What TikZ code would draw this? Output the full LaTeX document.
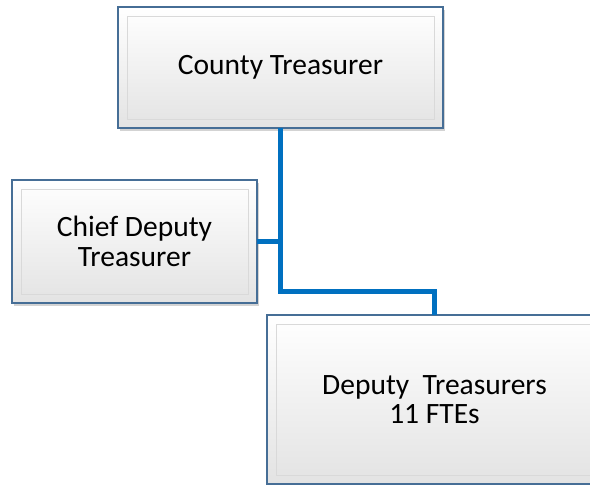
\documentclass[tikz,border=0pt]{standalone}
\usepackage{fontspec}
\setmainfont{Carlito}
\usetikzlibrary{shadows}
\definecolor{linkblue}{RGB}{0,112,192}
\definecolor{edgeblue}{RGB}{70,110,150}

\begin{document}
\begin{tikzpicture}[x=1pt,y=-1pt,
		post/.style={draw=edgeblue,line width=1.5pt,top color=white,bottom color=gray!22,
			inner sep=0pt,outer sep=0pt,align=center,font=\fontsize{29.5}{29.5}\selectfont,
			drop shadow={shadow xshift=2pt,shadow yshift=-3pt,opacity=0.35}},
		bevel/.style={draw=gray!30,line width=0.8pt},
		link/.style={draw=linkblue,line width=5pt}]
				\useasboundingbox (0,0) rectangle (590,485);
				\node[post,minimum width=325pt,minimum height=121pt] (treasurer) at (280.5,67.5) {County Treasurer};
				\node[post,minimum width=245pt,minimum height=123pt] (chief) at (134.5,241.5) {Chief Deputy\\Treasurer};
				\node[post,minimum width=335pt,minimum height=169pt] (deputies) at (434.5,399.5) {Deputy\ \ Treasurers\\11 FTEs};
				\foreach \n in {treasurer,chief,deputies}
				\draw[bevel] ([shift={(9,9)}]\n.north west) rectangle ([shift={(-9,-9)}]\n.south east);
				\coordinate (bend) at (0,291.5);
				\draw[link] (treasurer.south) -- (treasurer.south |- bend) -| (deputies.north);
				\draw[link] (chief.east) -- (chief.east -| treasurer.south);

			\end{tikzpicture}
\end{document}
